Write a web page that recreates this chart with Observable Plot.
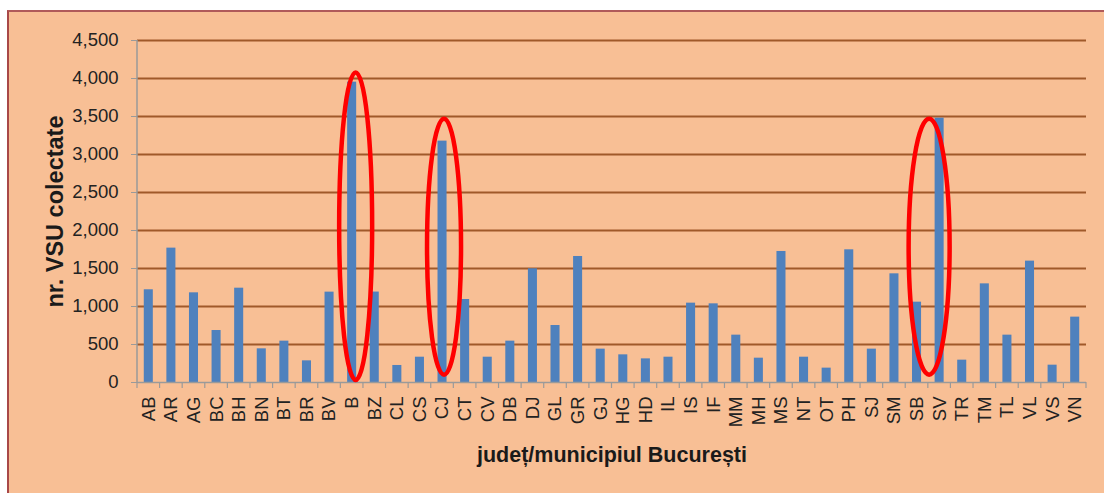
<!DOCTYPE html>
<html><head><meta charset="utf-8">
<script src="https://cdn.jsdelivr.net/npm/d3@7"></script>
<script src="https://cdn.jsdelivr.net/npm/@observablehq/plot@0.6"></script>
<style>
html,body{margin:0;padding:0;background:#fff;width:1104px;height:493px;overflow:hidden}
#frame{position:absolute;left:7px;top:10px;width:1120px;height:500px;background:#F8BF95;border-left:2px solid #A84848;border-top:2px solid #B05A5A;}
#chart{position:absolute;left:0;top:0}
</style></head><body><div id="frame"></div><div id="chart"></div>
<script>
const categories = ["AB","AR","AG","BC","BH","BN","BT","BR","BV","B","BZ","CL","CS","CJ","CT","CV","DB","DJ","GL","GR","GJ","HG","HD","IL","IS","IF","MM","MH","MS","NT","OT","PH","SJ","SM","SB","SV","TR","TM","TL","VL","VS","VN"];
const values = [1220,1768,1180,684,1241,443,544,285,1189,3952,1190,224,333,3176,1092,333,544,1496,750,1658,439,364,311,333,1044,1035,623,320,1724,333,189,1746,439,1430,1057,3478,294,1298,623,1597,228,860];
const yTicks = [0,500,1000,1500,2000,2500,3000,3500,4000,4500];
const highlightCats = ["B","CJ","SV"];
const highlightTop = [4100,3490,3490];
const highlightBottom = [0,70,70];
const xTitle = "județ/municipiul București";
const yTitle = "nr. VSU colectate";

// styles (pixel offsets / sizes for the annotation ellipses)
const ellipseShift = [4,2,-10];
const ellipseRx = [16.5,17,20.5];

const data = categories.map((c,i)=>({c, v: values[i]}));
const font = "'Liberation Sans', Arial, sans-serif";

const plot = Plot.plot({
  width:1104, height:493,
  marginLeft:137, marginRight:18, marginTop:40, marginBottom:111,
  style:{background:"transparent", fontFamily:font, fontSize:"18.5px", color:"#222"},
  x:{domain:categories, paddingInner:0.6, paddingOuter:0.3, align:0.5, round:false, label:null},
  y:{domain:[0,4500], label:null},
  marks:[
    Plot.ruleY(yTicks.filter(d=>d>0), {stroke:"#A0592A", strokeWidth:1.8}),
    Plot.barY(data, {x:"c", y:"v", fill:"#4F81BD"}),
    Plot.ruleY([0], {stroke:"#9A9A9A", strokeWidth:1.5}),
    Plot.axisY({ticks:yTicks, tickFormat:d3.format(","), tickSize:6, tickPadding:13, stroke:"#9A9A9A", label:null}),
    Plot.axisX({tickRotate:-90, tickSize:0, tickPadding:14, label:null}),
    Plot.text([xTitle], {frameAnchor:"bottom", dy:73, lineAnchor:"middle", fontWeight:"bold", fontSize:21.5, fill:"#1a1a1a"}),
    Plot.text([yTitle], {frameAnchor:"left", dx:-82, rotate:-90, textAnchor:"middle", lineAnchor:"middle", fontWeight:"bold", fontSize:23.5, fill:"#1a1a1a"})
  ]
});
document.getElementById("chart").appendChild(plot);

const xs = plot.scale("x"), ys = plot.scale("y");
const svg = d3.select(plot);
const bw = xs.bandwidth;
const step = xs.step !== undefined ? xs.step : (xs.apply(categories[1]) - xs.apply(categories[0]));
const gap = step - bw;
const y0 = ys.apply(0), yTop = ys.apply(4500);
const leftX = xs.apply(categories[0]) - gap/2;
// y-axis line
svg.append("line").attr("x1",leftX).attr("x2",leftX).attr("y1",yTop).attr("y2",y0)
  .attr("stroke","#9A9A9A").attr("stroke-width",1.5);
// x-axis boundary ticks
const bounds = categories.map(c => xs.apply(c) - gap/2);
bounds.push(xs.apply(categories[categories.length-1]) + bw + gap/2);
svg.append("g").selectAll("line").data(bounds).join("line")
  .attr("x1",d=>d).attr("x2",d=>d).attr("y1",y0).attr("y2",y0+6)
  .attr("stroke","#9A9A9A").attr("stroke-width",1.2);
// annotation ellipses
highlightCats.forEach((c,i)=>{
  const cx = xs.apply(c) + bw/2 + ellipseShift[i];
  const t = ys.apply(highlightTop[i]) + 2, b = ys.apply(highlightBottom[i]) - 2;
  svg.append("ellipse").attr("cx",cx).attr("cy",(t+b)/2).attr("rx",ellipseRx[i]).attr("ry",(b-t)/2)
    .attr("fill","none").attr("stroke","#FF0000").attr("stroke-width",4.5);
});
</script></body></html>
